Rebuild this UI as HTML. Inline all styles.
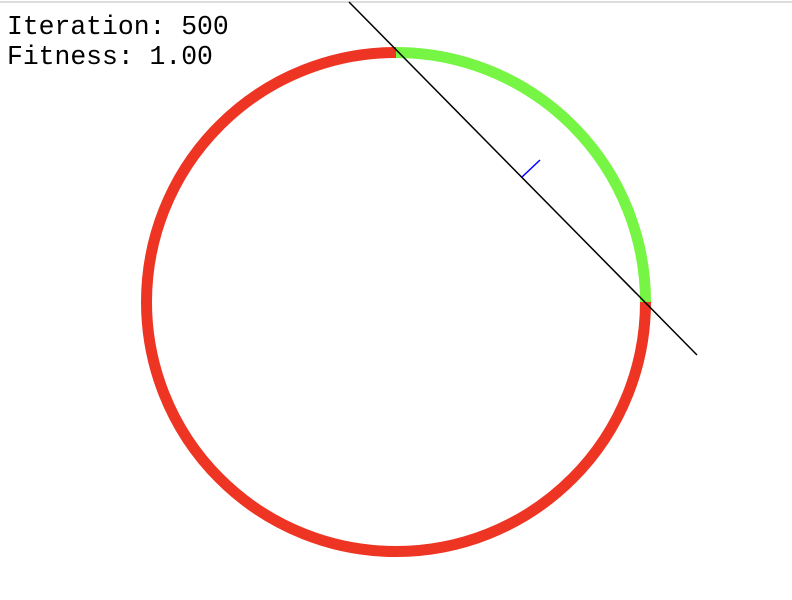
<!DOCTYPE html>
<html><head><meta charset="utf-8"><style>
html,body{margin:0;padding:0;background:#fff;width:792px;height:600px;overflow:hidden}
svg{display:block}
text{font-family:"Liberation Mono",monospace;font-size:26.4px;fill:#000}
</style></head><body>
<svg width="792" height="600">
<rect x="0" y="0" width="792" height="600" fill="#fff"/>
<line x1="0" y1="2" x2="792" y2="2" stroke="#ddd" stroke-width="2"/>
<g id="g"></g>
<text x="7" y="34">Iteration: 500</text>
<text x="7" y="64">Fitness: 1.00</text>
</svg>
<script>
const circle=[396,302,249.5];
const arcGreenDeg=[-90,0];
const linePts=[[349,2],[697,355]];
const normalTick=[[522,177],[540,160]];
const NS="http://www.w3.org/2000/svg";
const g=document.getElementById('g');
function arc(a0,a1){const [cx,cy,r]=circle;const p=a=>[cx+r*Math.cos(a*Math.PI/180),cy+r*Math.sin(a*Math.PI/180)];
const s=p(a0),e=p(a1);const large=((a1-a0+360)%360)>180?1:0;return `M${s[0]},${s[1]} A${r},${r} 0 ${large} 1 ${e[0]},${e[1]}`;}
const red=document.createElementNS(NS,'path');
red.setAttribute('d',arc(arcGreenDeg[1],arcGreenDeg[0]+360));
red.setAttribute('fill','none');red.setAttribute('stroke','#ee3524');red.setAttribute('stroke-width','11');


g.appendChild(red);
const gr=document.createElementNS(NS,'path');
gr.setAttribute('d',arc(arcGreenDeg[0],arcGreenDeg[1]));
gr.setAttribute('fill','none');gr.setAttribute('stroke','#77f544');gr.setAttribute('stroke-width','11');


g.appendChild(gr);
const l=document.createElementNS(NS,'line');
l.setAttribute('x1',linePts[0][0]);l.setAttribute('y1',linePts[0][1]);l.setAttribute('x2',linePts[1][0]);l.setAttribute('y2',linePts[1][1]);
l.setAttribute('stroke','#000');l.setAttribute('stroke-width','1.5');


g.appendChild(l);
const t=document.createElementNS(NS,'line');
t.setAttribute('x1',normalTick[0][0]);t.setAttribute('y1',normalTick[0][1]);t.setAttribute('x2',normalTick[1][0]);t.setAttribute('y2',normalTick[1][1]);
t.setAttribute('stroke','#0000ff');t.setAttribute('stroke-width','1.5');


g.appendChild(t);
</script>
</body></html>
